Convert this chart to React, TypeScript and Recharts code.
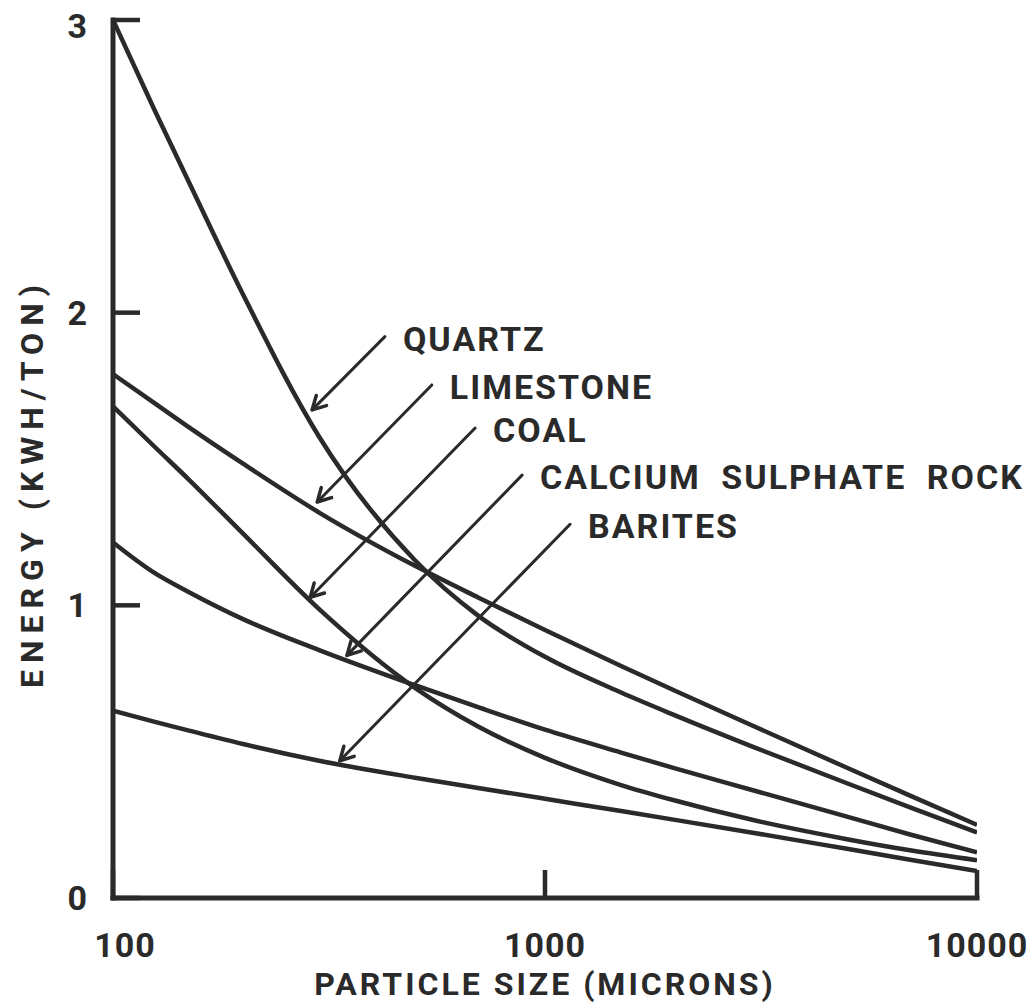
import { LineChart, Line, XAxis, YAxis, ReferenceLine } from "recharts";

// particle size in microns (log axis)
const sizes = [100, 125, 150, 200, 300, 500, 700, 1000, 1500, 2000, 3000, 5000, 7000, 10000];

// grinding energy, kWh/ton
const quartz = [3.0, 2.69, 2.445, 2.062, 1.576, 1.154, 0.965, 0.824, 0.702, 0.624, 0.519, 0.392, 0.31, 0.224];
const limestone = [1.79, 1.69, 1.608, 1.484, 1.317, 1.135, 1.027, 0.916, 0.793, 0.708, 0.591, 0.445, 0.35, 0.25];
const coal = [1.68, 1.541, 1.429, 1.245, 0.987, 0.718, 0.586, 0.479, 0.386, 0.333, 0.268, 0.201, 0.163, 0.129];
const calcium = [1.215, 1.11, 1.045, 0.953, 0.847, 0.727, 0.652, 0.575, 0.497, 0.443, 0.37, 0.278, 0.217, 0.156];
const barites = [0.64, 0.602, 0.572, 0.526, 0.469, 0.411, 0.376, 0.339, 0.297, 0.267, 0.224, 0.168, 0.131, 0.092];

const xTicks = [100, 1000, 10000];
const yTicks = [0, 1, 2, 3];

// callouts: label, arrow tail (size, energy), arrow tip (size, energy)
const calloutLabels = ["QUARTZ", "LIMESTONE", "COAL", "CALCIUM SULPHATE ROCK", "BARITES"];
const calloutTails = [
  [426, 1.918],
  [547, 1.753],
  [689, 1.606],
  [885, 1.445],
  [1143, 1.277],
];
const calloutTips = [
  [289, 1.668],
  [297, 1.353],
  [286, 1.027],
  [348, 0.829],
  [335, 0.469],
];

const rows = sizes.map((size, i) => ({
  size,
  quartz: quartz[i],
  limestone: limestone[i],
  coal: coal[i],
  calcium: calcium[i],
  barites: barites[i],
}));

const INK = "#2a2a2a";
const FONT = "Roboto, 'DejaVu Sans', sans-serif";

function YTick(props: any) {
  const { x, y, payload, index } = props;
  return (
    <g>
      <line x1={x} y1={y} x2={x + 27} y2={y} stroke={INK} strokeWidth={4.5} />
      <text
        x={x - 26}
        y={y + (index === 3 ? 18 : 12)}
        textAnchor="end"
        fill={INK}
        fontFamily={FONT}
        fontWeight={700}
        fontSize={34}
      >
        {payload.value}
      </text>
    </g>
  );
}

function XTick(props: any) {
  const { x, y, payload, index } = props;
  return (
    <g>
      <line x1={x} y1={y} x2={x} y2={y - 28} stroke={INK} strokeWidth={4.5} />
      <text
        x={x + (index === 0 ? 12 : 0)}
        y={y + 59}
        textAnchor="middle"
        fill={INK}
        fontFamily={FONT}
        fontWeight={700}
        fontSize={34}
        letterSpacing={1}
      >
        {payload.value}
      </text>
    </g>
  );
}

function Pointer(props: any) {
  const { x1, y1, x2, y2, text } = props;
  const a = Math.atan2(y1 - y2, x1 - x2);
  const len = 15;
  const spread = 0.5;
  return (
    <g>
      <line x1={x1} y1={y1} x2={x2} y2={y2} stroke={INK} strokeWidth={3} strokeLinecap="round" />
      <polyline
        points={`${x2 + len * Math.cos(a + spread)},${y2 + len * Math.sin(a + spread)} ${x2},${y2} ${
          x2 + len * Math.cos(a - spread)
        },${y2 + len * Math.sin(a - spread)}`}
        fill="none"
        stroke={INK}
        strokeWidth={3.5}
        strokeLinecap="round"
        strokeLinejoin="round"
      />
      <text
        x={x1 + 18}
        y={y1 + 14}
        fill={INK}
        fontFamily={FONT}
        fontWeight={700}
        fontSize={34}
        letterSpacing={2}
        wordSpacing={10}
      >
        {text}
      </text>
    </g>
  );
}

const seriesKeys = ["quartz", "limestone", "coal", "calcium", "barites"];

export default function App() {
  return (
    <div style={{ position: "absolute", left: 0, top: 0, width: 1036, height: 1008, background: "#fff" }}>
      <LineChart width={1036} height={1008} data={rows} margin={{ top: 20, right: 59, bottom: 0, left: 0 }}>
        <XAxis
          dataKey="size"
          type="number"
          scale="log"
          domain={[100, 10000]}
          ticks={xTicks}
          allowDataOverflow
          height={110}
          tickSize={0}
          tickMargin={0}
          tickLine={false}
          axisLine={{ stroke: INK, strokeWidth: 5, strokeLinecap: "square" }}
          tick={<XTick />}
          label={{
            content: ({ viewBox }: any) => (
              <text
                x={viewBox.x + viewBox.width / 2}
                y={viewBox.y + 97}
                textAnchor="middle"
                fill={INK}
                fontFamily={FONT}
                fontWeight={700}
                fontSize={32}
                letterSpacing={3}
              >
                PARTICLE SIZE (MICRONS)
              </text>
            ),
          }}
        />
        <YAxis
          type="number"
          domain={[0, 3]}
          ticks={yTicks}
          width={113}
          tickSize={0}
          tickMargin={0}
          tickLine={false}
          axisLine={{ stroke: INK, strokeWidth: 5, strokeLinecap: "square" }}
          tick={<YTick />}
          label={{
            content: ({ viewBox }: any) => {
              const bx = viewBox.x + 43;
              const cy = viewBox.y + viewBox.height / 2 + 24;
              return (
                <text
                  x={bx}
                  y={cy}
                  transform={`rotate(-90 ${bx} ${cy})`}
                  textAnchor="middle"
                  fill={INK}
                  fontFamily={FONT}
                  fontWeight={700}
                  fontSize={32}
                  letterSpacing={7}
                >
                  ENERGY (KWH/TON)
                </text>
              );
            },
          }}
        />
        {seriesKeys.map((key) => (
          <Line
            key={key}
            dataKey={key}
            type="monotone"
            stroke={INK}
            strokeWidth={4.5}
            dot={false}
            activeDot={false}
            isAnimationActive={false}
          />
        ))}
        {calloutLabels.map((label, i) => (
          <ReferenceLine
            key={label}
            segment={[
              { x: calloutTails[i][0], y: calloutTails[i][1] },
              { x: calloutTips[i][0], y: calloutTips[i][1] },
            ]}
            ifOverflow="visible"
            shape={(p: any) => <Pointer {...p} text={label} />}
          />
        ))}
      </LineChart>
    </div>
  );
}
